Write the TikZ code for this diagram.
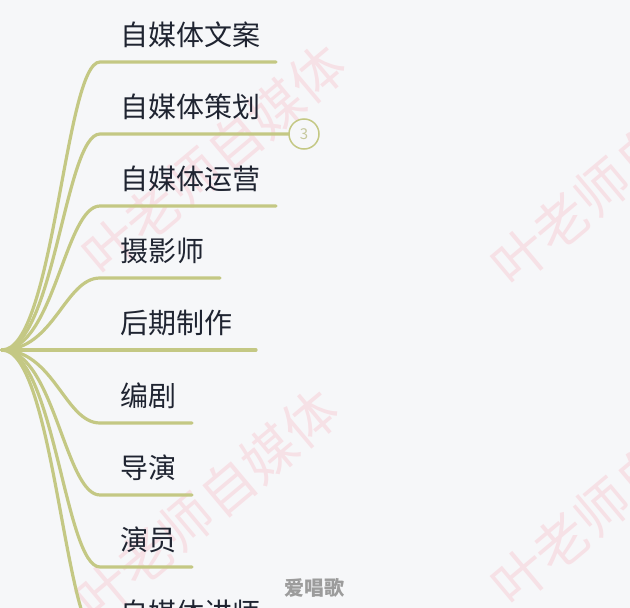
\documentclass[tikz,border=0pt]{standalone}
\usepackage{fontspec}
\setmainfont{Noto Sans CJK SC}
\usetikzlibrary{calc}

\definecolor{paper}{HTML}{F6F7F9}
\definecolor{twig}{HTML}{C4C884}
\definecolor{ink}{HTML}{1F2431}
\definecolor{blush}{HTML}{F6E1E6}
\definecolor{stampgray}{HTML}{9C9C9C}
\definecolor{badgetext}{HTML}{C6C89C}

\tikzset{
  branch/.style={draw=twig, line width=3.2pt, line cap=round},
  topic/.style={anchor=west, inner sep=0pt, text=ink, font=\fontsize{28}{30}\selectfont},
  wmtext/.style={rotate=40, text=blush, inner sep=0pt, font=\fontsize{54}{60}\selectfont},
  stamp/.style={text=stampgray, inner sep=0pt, font=\bfseries\fontsize{20}{22}\selectfont},
  badge/.style={circle, draw=twig, line width=1.5pt, fill=paper, minimum size=30pt,
    inner sep=0pt, text=badgetext, font=\fontsize{15}{16}\selectfont}
}

\begin{document}
\begin{tikzpicture}[x=1pt, y=-1pt]
  \useasboundingbox (0,0) rectangle (630,608);
  \fill[paper] (0,0) rectangle (630,608);
  \clip (0,0) rectangle (630,608);

  % watermark
  \foreach \n/\x/\y in {wa/214/160, wb/623/170, wc/207/505, wd/623/490}
    \node[wmtext] (\n) at (\x,\y) {叶老师自媒体};

  \coordinate (root) at (2,350);
  \foreach \i/\y/\e/\t in {1/62/276/自媒体文案, 2/134/289/自媒体策划, 3/206/276/自媒体运营,
      4/278/220/摄影师, 5/350/256/后期制作, 6/423/192/编剧, 7/495/192/导演,
      8/567/192/演员, 9/640/276/自媒体讲师} {
    \coordinate (s\i) at (100,\y);
    \coordinate (e\i) at (\e,\y);
    \node[topic] (t\i) at (120,\y-27) {\t};
    \draw[branch] (root) .. controls +(52,0) and +(-35,0) .. (s\i) -- (e\i);
  }
  \node[badge] (more) at (304,134) {3};

  \node[stamp] (sing) at (314,588) {爱唱歌};
\end{tikzpicture}
\end{document}
